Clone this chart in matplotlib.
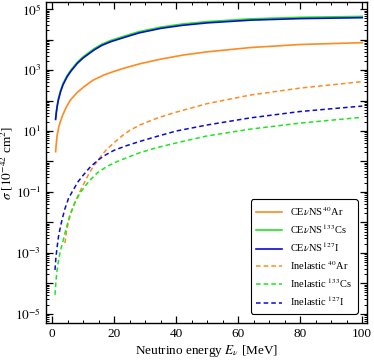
import matplotlib
matplotlib.use('Agg')
from matplotlib import pyplot as plt
from matplotlib.ticker import LogLocator, MultipleLocator, NullFormatter, FixedLocator

plt.rcParams['font.family'] = 'serif'
plt.rcParams['font.serif'] = ['Liberation Serif', 'DejaVu Serif']
plt.rcParams['mathtext.fontset'] = 'stix'

# CEvNS cross sections [1e-42 cm^2]
E_coh = [1.1, 1.3, 1.6, 2.0, 2.7, 3.5, 4.8, 6, 8.1, 10, 13.5, 16, 18.8, 23.1,
         28, 35, 42, 50, 64, 80, 100]
coh_I = [24, 38, 63, 105, 195, 331, 600, 912, 1660, 2510, 4570, 6460, 8500, 11700,
         16600, 23400, 29500, 35500, 43600, 49000, 52500]
coh_Cs = [26, 42, 69, 116, 215, 364, 660, 1000, 1830, 2760, 5030, 7100, 9350, 12900,
          18300, 25700, 32500, 39000, 48000, 54000, 57800]

E_coh_Ar = [1.1, 1.3, 1.6, 2.2, 3.2, 4.5, 5.9, 8, 10.2, 13, 16.7, 20, 23.1, 28,
            35, 42, 50, 64, 80, 100]
coh_Ar = [2.1, 3.7, 7.4, 14.8, 30, 60, 105, 182, 282, 457, 692, 912, 1150, 1585,
          2290, 3090, 3980, 5500, 6920, 7940]

# inelastic cross sections
E_inel_Ar = [4.1, 4.6, 5.3, 6.3, 7.5, 8.9, 10.5, 12.2, 14.8, 17.3, 20, 22.5, 25,
             28.3, 34, 40, 50, 63.8, 80, 100]
inel_Ar = [2.1e-3, 5.0e-3, 1.12e-2, 2.4e-2, 5.0e-2, 0.1, 0.214, 0.468, 1.12, 2.34,
           4.17, 6.9, 10.5, 15.8, 26.9, 41.7, 79.4, 151, 257, 417]

E_inel_Cs = [0.9, 1.2, 1.5, 1.9, 2.6, 3.5, 4.5, 5.7, 7.2, 8.9, 10.5, 12.2, 14.5,
             17.5, 21, 25, 28.3, 34, 40, 50, 63.8, 80, 100]
inel_Cs = [4.2e-5, 1.12e-4, 2.4e-4, 4.6e-4, 1.12e-3, 2.5e-3, 6.3e-3, 1.74e-2,
           4.2e-2, 8.9e-2, 0.151, 0.245, 0.417, 0.676, 1.0, 1.45, 1.95, 2.88, 4.07,
           6.9, 11.5, 18.2, 28.2]

E_inel_I = [0.9, 1.2, 1.6, 2.0, 2.5, 3.2, 4.1, 5.3, 6.8, 8.3, 10, 12.2, 14.8, 17.3,
            20, 24, 28.3, 34, 40, 50, 63.8, 80, 100]
inel_I = [2.75e-4, 7.1e-4, 1.58e-3, 3.3e-3, 6.0e-3, 1.26e-2, 2.8e-2, 6.3e-2, 0.117,
          0.214, 0.355, 0.646, 1.12, 1.66, 2.34, 3.31, 4.57, 6.76, 10, 15.8, 26.9,
          43.7, 66]

c_ar = '#ff8a1f'
c_cs = '#1ee61e'
c_i = '#0a0ad0'
dash = (0, (3, 2))

fig = plt.figure(figsize=(3.74, 3.6), dpi=100)
ax = fig.add_axes([0.123, 0.103, 0.858, 0.891])

ax.plot(E_coh_Ar, coh_Ar, color=c_ar, lw=1.2, label=r'CE$\nu$NS$\,^{40}$Ar')
ax.plot(E_coh, coh_Cs, color=c_cs, lw=1.2, label=r'CE$\nu$NS$\,^{133}$Cs')
ax.plot(E_coh, coh_I, color=c_i, lw=1.2, label=r'CE$\nu$NS$\,^{127}$I')
ax.plot(E_inel_Ar, inel_Ar, color=c_ar, lw=1.1, ls=dash, label=r'Inelastic $^{40}$Ar')
ax.plot(E_inel_Cs, inel_Cs, color=c_cs, lw=1.1, ls=dash, label=r'Inelastic $^{133}$Cs')
ax.plot(E_inel_I, inel_I, color=c_i, lw=1.1, ls=dash, label=r'Inelastic $^{127}$I')

ax.set_yscale('log')
ax.set_xlim(-2, 101.5)
ax.set_ylim(10**-5.3, 10**5.23)

ax.xaxis.set_major_locator(MultipleLocator(20))
ax.xaxis.set_minor_locator(MultipleLocator(5))
ax.yaxis.set_major_locator(FixedLocator([10.0**k for k in range(-5, 6)]))
ax.yaxis.set_minor_locator(LogLocator(base=10, subs=range(2, 10), numticks=30))
ax.yaxis.set_minor_formatter(NullFormatter())
ax.set_yticklabels([r'$10^{%d}$' % k if k % 2 else '' for k in range(-5, 6)])

ax.tick_params(which='both', direction='in', top=True, right=True, labelsize=9.5)
ax.tick_params(which='major', length=5, width=0.9)
ax.tick_params(which='minor', length=2.5, width=0.7)
for s in ax.spines.values():
    s.set_linewidth(1.0)

ax.set_xlabel(r'Neutrino energy $E_\nu$ [MeV]', fontsize=9.5, labelpad=2)
ax.set_ylabel(r'$\sigma$ [$10^{-42}$ cm$^2$]', fontsize=9.5)
ax.yaxis.set_label_coords(-0.097, 0.5)

leg = ax.legend(loc='lower right', fontsize=7.5, handlelength=2.5, borderaxespad=0.9,
                labelspacing=0.45, borderpad=0.5, edgecolor='black', fancybox=True,
                framealpha=1)
leg.get_frame().set_linewidth(0.8)

fig.savefig('out.png', dpi=100)
